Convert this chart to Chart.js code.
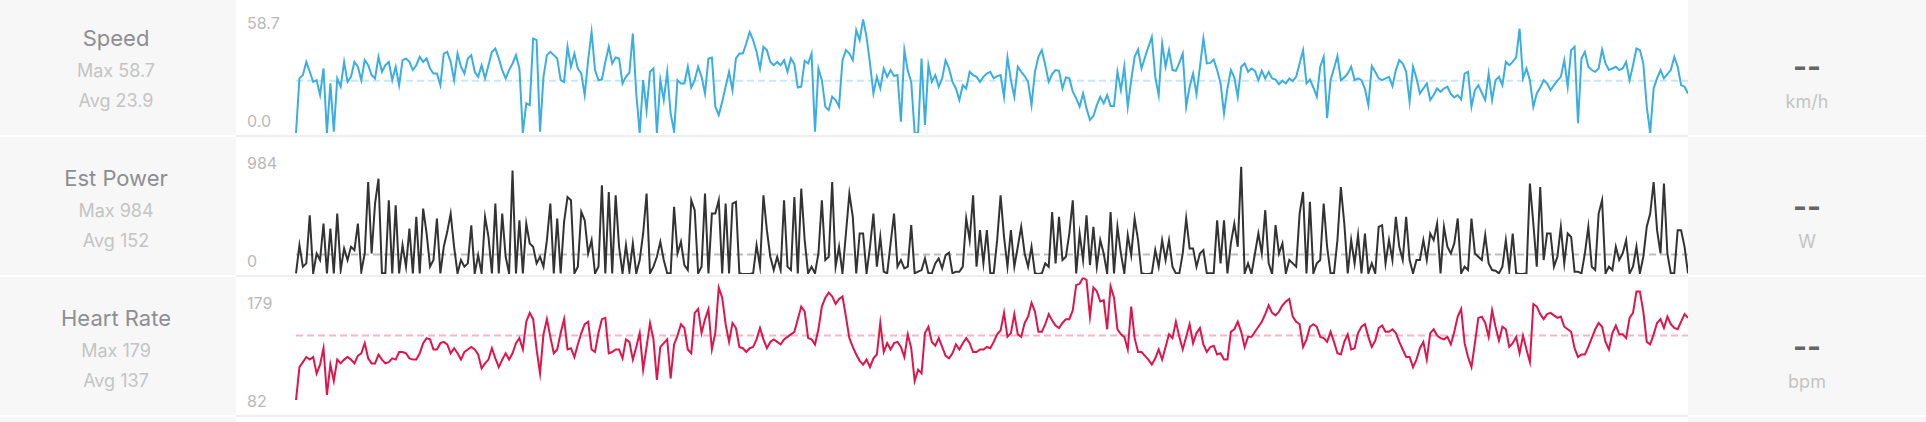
<!DOCTYPE html>
<html>
<head>
<meta charset="utf-8">
<script src="https://cdn.jsdelivr.net/npm/chart.js@4.4.1/dist/chart.umd.min.js"></script>
<style>
  body { margin: 0; width: 1926px; height: 422px; overflow: hidden; background: #fff; position: relative;
         font-family: Inter, "Helvetica Neue", Arial, sans-serif; }
  .row { position: absolute; left: 0; width: 1926px; height: 140px; }
  .side { position: absolute; top: 0; height: 138px; background: #f7f7f7; }
  .left { left: 0; width: 236px; }
  .right { left: 1688px; width: 238px; }
  .plot { position: absolute; left: 236px; top: 0; width: 1452px; height: 138px; border-bottom: 2px solid #efefef; }
  .plot canvas { position: absolute; left: 0; top: 0; }
  .name { position: absolute; left: 0; width: 232px; text-align: center; font-size: 22px; line-height: 22px; top: 29.5px; color: #8e8e93; }
  .stat { position: absolute; left: 0; width: 232px; text-align: center; font-size: 18px; line-height: 18px; color: #c4c4c4; }
  .max { top: 64.5px; }
  .avg { top: 95px; }
  .dash { position: absolute; left: 0; width: 238px; text-align: center; font-size: 30px; line-height: 30px; top: 54px; font-weight: 700; color: #666; }
  .unit { position: absolute; left: 0; width: 238px; text-align: center; font-size: 18px; line-height: 18px; top: 96px; color: #c4c4c4; }
  .tick { position: absolute; left: 11px; font-size: 16px; line-height: 16px; color: #b8b8b8; }
  .tick.top { top: 17.5px; }
  .tick.bot { top: 115.7px; }
</style>
</head>
<body>
<script>
// row texts
const names = ["Speed", "Est Power", "Heart Rate"];
const maxText = ["Max 58.7", "Max 984", "Max 179"];
const avgText = ["Avg 23.9", "Avg 152", "Avg 137"];
const units = ["km/h", "W", "bpm"];
const axisTop = ["58.7", "984", "179"];
const axisBottom = ["0.0", "0", "82"];

// series (one sample every ~3.4 px across the ride)
const speed = [
  0,28.2,29.9,36.7,31.6,26.4,27.3,19.6,33.3,0,25.6,0.7,28.2,23.9,36.7,26.4,29.0,36.7,34.2,27.3,
  37.6,35.0,29.9,28.2,39.3,31.6,35.0,36.7,27.3,34.2,24.7,37.6,38.5,36.7,32.5,35.0,39.3,36.7,38.5,33.3,
  30.7,30.7,24.7,41.0,41.9,36.7,27.3,41.0,34.2,30.7,38.5,40.2,31.6,29.0,35.0,28.2,35.0,41.9,43.6,38.5,
  32.5,28.2,32.5,35.9,40.2,33.3,0,15.3,14.4,48.8,47.9,0.7,29.0,40.2,41.9,40.2,38.5,27.3,26.4,44.5,
  34.2,41.0,33.3,30.7,19.6,37.6,52.2,32.5,27.3,27.6,36.7,44.5,35.9,39.0,38.5,25.6,29.0,31.1,51.3,20.4,
  0,27.3,11.8,31.6,33.3,0,27.3,17.0,31.6,10.1,0.7,27.3,25.6,25.6,34.2,23.5,27.3,34.2,29.0,20.4,
  38.5,39.0,13.6,9.3,16.1,23.9,31.6,22.1,38.5,41.0,41.0,46.2,52.2,47.9,41.9,33.3,44.5,42.8,36.7,35.0,
  36.7,35.0,37.6,31.6,38.5,35.5,23.5,23.9,37.3,35.9,41.0,0.7,33.3,27.3,13.6,11.8,18.7,17.0,13.6,37.6,
  42.8,41.0,37.6,53.1,47.9,58.7,49.6,35.9,20.4,29.0,23.0,33.3,29.0,32.5,29.4,29.9,5.8,42.8,32.1,26.4,
  0,0,38.5,4.1,35.0,26.4,29.9,23.9,28.2,37.6,33.3,26.4,23.0,17.0,24.7,23.0,31.6,29.9,29.0,26.4,
  29.0,30.7,31.6,28.2,29.4,29.9,18.7,39.0,27.3,18.7,34.2,31.6,29.4,26.4,14.4,31.6,39.3,42.8,35.0,26.4,
  30.4,32.5,32.1,23.0,28.7,28.2,21.3,17.9,13.6,20.4,12.7,6.7,8.8,14.4,18.7,15.3,19.6,13.9,13.9,31.6,
  22.1,34.2,13.6,27.3,39.3,43.1,33.3,39.0,44.5,49.6,29.0,19.6,46.2,34.2,42.8,32.5,32.1,36.2,41.0,13.6,
  23.9,30.7,20.1,34.2,48.8,35.9,36.2,37.9,32.5,25.6,10.1,23.0,32.5,28.7,18.7,34.2,35.9,31.6,33.3,32.1,
  27.3,32.1,28.2,31.6,28.2,27.6,25.2,27.0,25.6,28.2,26.8,29.0,35.9,42.8,25.6,27.6,23.5,18.7,34.2,39.3,
  7.6,27.3,33.3,39.7,27.3,28.7,30.7,34.2,27.3,28.2,27.3,22.8,14.4,34.5,31.6,28.2,27.3,28.2,29.0,24.2,
  32.5,37.6,35.9,31.6,16.1,34.2,28.2,20.4,23.0,25.6,17.0,19.6,23.0,21.3,23.0,23.9,20.1,18.4,19.6,17.3,
  30.7,31.6,13.6,22.1,24.7,20.8,17.0,30.7,17.0,27.3,29.0,24.7,36.7,35.0,36.7,39.0,53.9,28.2,33.3,27.3,
  13.6,20.4,23.5,27.3,25.6,22.1,24.7,27.0,29.0,37.6,23.9,42.8,44.5,5.0,38.5,41.9,34.2,32.5,31.6,33.3,
  43.1,35.9,32.5,33.3,34.2,32.5,33.3,36.7,27.3,35.0,43.6,42.8,35.9,13.6,0,23.0,28.2,32.5,28.2,30.4,
  32.5,39.3,34.2,24.7,23.9,20.4
];

const power = [
  6,264,67,97,538,6,188,128,462,6,416,6,553,36,234,128,249,219,462,21,
  188,842,188,644,872,6,6,675,6,629,6,264,67,416,6,523,6,599,371,67,
  128,508,6,249,386,553,249,6,128,67,97,446,6,173,6,523,340,6,644,6,
  553,158,6,948,6,492,6,462,280,249,97,158,67,310,644,6,508,6,477,705,
  675,6,67,568,492,188,310,6,67,812,6,751,6,720,249,6,264,21,280,6,
  128,371,736,6,67,158,295,128,6,6,614,188,295,82,36,675,584,6,67,736,
  6,553,553,675,6,644,6,644,660,6,0,0,0,6,264,67,720,401,158,36,
  158,36,675,67,36,705,6,781,310,6,67,6,188,675,128,158,842,67,249,6,
  371,736,523,6,371,371,6,249,553,67,340,21,6,280,553,67,128,52,67,447,
  6,21,36,143,6,6,97,143,52,173,195,6,21,21,67,508,310,720,67,401,
  97,401,6,6,310,720,340,67,401,67,249,432,188,67,249,6,0,6,97,67,
  568,97,523,128,158,371,675,6,371,128,538,82,432,67,310,188,6,568,6,432,
  188,6,356,173,508,310,6,0,0,6,219,67,310,128,310,67,6,6,188,508,
  234,234,67,188,219,6,6,6,492,97,492,6,280,462,249,984,6,97,0,188,
  371,188,584,97,0,447,188,280,6,128,97,67,553,751,6,660,6,97,128,644,
  249,6,6,310,796,462,6,310,97,356,6,371,6,97,6,432,447,97,310,128,
  523,249,128,523,128,6,128,128,310,128,371,310,462,6,432,249,188,280,508,6,
  67,36,508,188,158,128,356,97,36,30,6,67,310,36,371,6,0,0,6,827,
  462,67,796,128,371,371,67,158,432,97,371,340,21,21,6,188,432,67,36,553,
  675,6,67,36,249,128,188,310,6,67,249,6,158,432,553,842,401,188,827,188,
  6,6,401,401,249,6
];

const heartRate = [
  82,108,112,116,114,116,103,110,123,86,110,97,114,111,114,116,114,111,117,119,
  127,115,111,111,118,114,111,112,115,114,120,120,119,115,114,114,119,127,131,130,
  122,122,127,128,126,119,123,119,114,120,122,124,122,118,107,111,114,123,115,108,
  114,119,114,119,127,131,122,144,151,146,122,103,134,146,132,119,122,135,146,122,
  123,116,126,135,142,144,122,120,135,146,147,119,120,122,122,115,130,128,114,124,
  135,106,124,143,130,98,124,127,130,99,126,133,142,139,122,119,151,154,135,146,
  154,122,135,171,163,142,128,143,139,124,123,120,123,124,130,139,130,123,128,130,
  128,126,130,132,134,136,146,156,152,131,130,126,138,156,163,167,164,158,162,164,
  148,131,124,118,113,110,114,108,115,118,143,120,127,122,127,128,124,116,134,123,
  97,106,103,135,140,128,125,131,124,117,115,119,126,122,127,131,127,120,120,122,
  122,124,123,128,134,137,151,132,135,150,134,132,143,148,159,152,136,136,142,150,
  145,141,139,143,146,146,153,173,174,179,177,148,171,168,160,161,138,172,163,138,
  134,132,122,156,131,120,120,117,114,110,115,122,114,124,134,131,144,132,122,132,
  142,127,135,139,126,120,124,125,118,119,114,114,136,138,144,136,124,132,132,136,
  140,144,150,157,151,149,152,157,160,162,148,144,142,124,130,140,142,140,132,131,
  128,136,128,119,118,128,134,122,123,135,140,142,132,124,129,139,141,136,136,138,
  135,128,122,116,116,108,114,123,128,114,135,138,133,131,130,132,126,136,148,154,
  127,116,108,127,147,148,143,132,153,140,129,140,138,124,127,132,119,133,122,112,
  158,156,150,146,150,151,149,147,148,140,138,136,123,116,118,118,124,131,138,143,
  140,128,122,135,141,134,134,131,147,151,168,168,152,128,126,134,143,146,139,148,
  142,139,138,144,150,147
];

// dashed reference lines, as drawn in the picture
const refLines = [27.0, 178, 133];
const yMin = [0, 0, 82];
const yMax = [58.7, 984, 179];

const series = [speed, power, heartRate];
const lineColors = ["#3aaee2", "#333333", "#e0144a"];
const refColors = ["#c6e7f6", "#bdbdbd", "#f6b6c6"];
// plot area inside each 138px tall row canvas
const padTop = [22.3, 29.5, 0.5];
const padBottom = [2, 1, 15];
const rowTops = [-3, 137, 277];

function addRow(top) {
  const row = document.createElement("div");
  row.className = "row";
  row.style.top = top + "px";
  row.innerHTML = '<div class="side left"></div><div class="plot"></div><div class="side right"></div>';
  document.body.appendChild(row);
  return row;
}

names.forEach(function (name, r) {
  const row = addRow(rowTops[r]);
  const left = row.querySelector(".left");
  left.innerHTML = '<div class="name">' + name + '</div>' +
    '<div class="stat max">' + maxText[r] + '</div>' +
    '<div class="stat avg">' + avgText[r] + '</div>';
  const right = row.querySelector(".right");
  right.innerHTML = '<div class="dash">--</div><div class="unit">' + units[r] + '</div>';
  const plot = row.querySelector(".plot");
  plot.innerHTML = '<div class="tick top">' + axisTop[r] + '</div>' +
    '<div class="tick bot">' + axisBottom[r] + '</div>';

  const canvas = document.createElement("canvas");
  canvas.width = 1452;
  canvas.height = 138;
  plot.appendChild(canvas);

  const values = series[r];
  const labels = values.map(function (_, i) { return i; });

  new Chart(canvas.getContext("2d"), {
    type: "line",
    data: {
      labels: labels,
      datasets: [
        {
          data: values,
          borderColor: lineColors[r],
          borderWidth: 2,
          pointRadius: 0,
          tension: 0,
          fill: false,
        },
        {
          data: labels.map(function () { return refLines[r]; }),
          borderColor: refColors[r],
          borderWidth: 2,
          borderDash: [7, 4],
          pointRadius: 0,
          fill: false,
        },
      ],
    },
    options: {
      responsive: false,
      animation: false,
      devicePixelRatio: 1,
      events: [],
      layout: { padding: { left: 60, right: 0, top: padTop[r], bottom: padBottom[r] } },
      plugins: { legend: { display: false }, tooltip: { enabled: false } },
      scales: {
        x: { display: false },
        y: { display: false, min: yMin[r], max: yMax[r] },
      },
    },
  });
});

// top of the next row peeking in at the bottom
addRow(417);
</script>
</body>
</html>
